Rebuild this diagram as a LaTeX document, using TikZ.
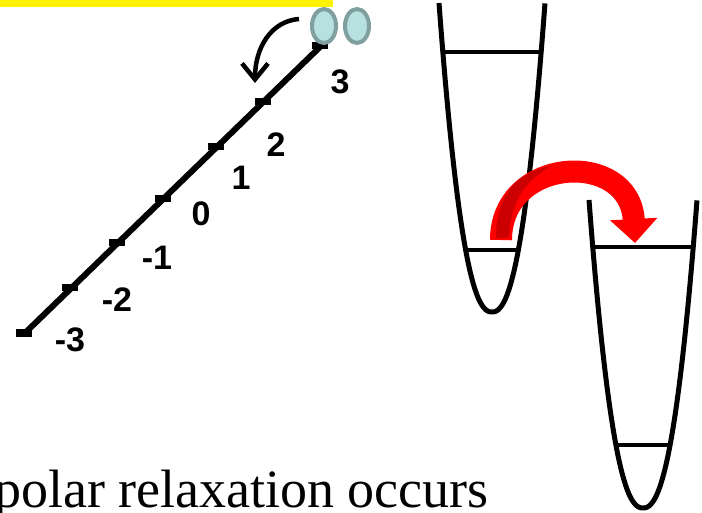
\documentclass[tikz,border=0pt]{standalone}
\usepackage{fontspec}
\setmainfont{Liberation Serif}
\newfontfamily\digitfont{Liberation Sans}
\usetikzlibrary{arrows.meta,calc,shapes.geometric}
\definecolor{spinfill}{RGB}{183,224,224}
\definecolor{spinedge}{RGB}{128,160,160}
\definecolor{hopred}{RGB}{255,0,0}
\definecolor{hopdark}{RGB}{204,0,0}

\begin{document}
\begin{tikzpicture}[x=1pt, y=-1pt,
    well/.style={line width=5pt},
    level/.style={line width=4.5pt},
    spin/.style={ellipse, draw=spinedge, fill=spinfill, line width=4pt,
      minimum width=24pt, minimum height=34pt, inner sep=0pt},
    num/.style={font=\digitfont\bfseries\fontsize{34}{34}\selectfont, inner sep=0pt}]
    \useasboundingbox (0,0) rectangle (702,513);
    % field bar
    \fill[yellow] (0,0) rectangle (333,7);
    % axis with the -3 ... 3 positions
    \coordinate (lo) at (25,333);
    \coordinate (hi) at (321,46);
    \draw[line width=6pt] (lo) -- (hi);
    \foreach \t/\lab/\lx/\ly [count=\i] in {0/-3/70/340, 0.157/-2/117/300,
        0.315/-1/157/258, 0.469/0/201/214, 0.65/1/241/178,
        0.808/2/276/145, 1/3/340/82}{
      \fill ($(lo)!\t!(hi)$) ++(-9,-3.5) rectangle ++(16,7);
      \node[num] (pos\i) at (\lx,\ly) {\lab};
    }
    % spins
    \node[spin] (s1) at (324,26) {};
    \node[spin] (s2) at (357,26) {};
    \coordinate (flip) at (255,83);
    \draw[line width=4.5pt, -{Straight Barb[length=16pt,width=26pt]}]
      ([xshift=-11pt,yshift=7pt]s1.west) .. controls +(-28,2) and +(0,-35) .. (flip);
    % left well
    \draw[well] plot[domain=-1:1, samples=60]
      ({492+53*\x},{312-309*pow(abs(\x),2.3)});
    \draw[level] (441,52) -- (543,52);
    \draw[level] (466,250) -- (518,250);
    % right well
    \draw[well] plot[domain=-1:1, samples=60]
      ({643+54*\x},{508-308*pow(abs(\x),2.3)});
    \draw[level] (592,247) -- (695,247);
    \draw[level] (617,445) -- (670,445);
    % hop
    \coordinate (hopfrom) at (501,240);
    \coordinate (hopto) at (635,243);
    \draw[hopred, line width=22pt, -{Triangle[length=24pt,width=46pt]}]
      (hopfrom) .. controls +(0,-84) and +(-5,-94) .. (hopto);
    \fill[hopdark] (496,238) .. controls (496,196) and (515,172) .. (552,166)
      .. controls (526,179) and (510,202) .. (509,238) -- cycle;
    \node[anchor=base east, inner sep=0pt, font=\fontsize{54}{60}\selectfont]
      (caption) at (489,507) {polar relaxation occurs};
\end{tikzpicture}
\end{document}
